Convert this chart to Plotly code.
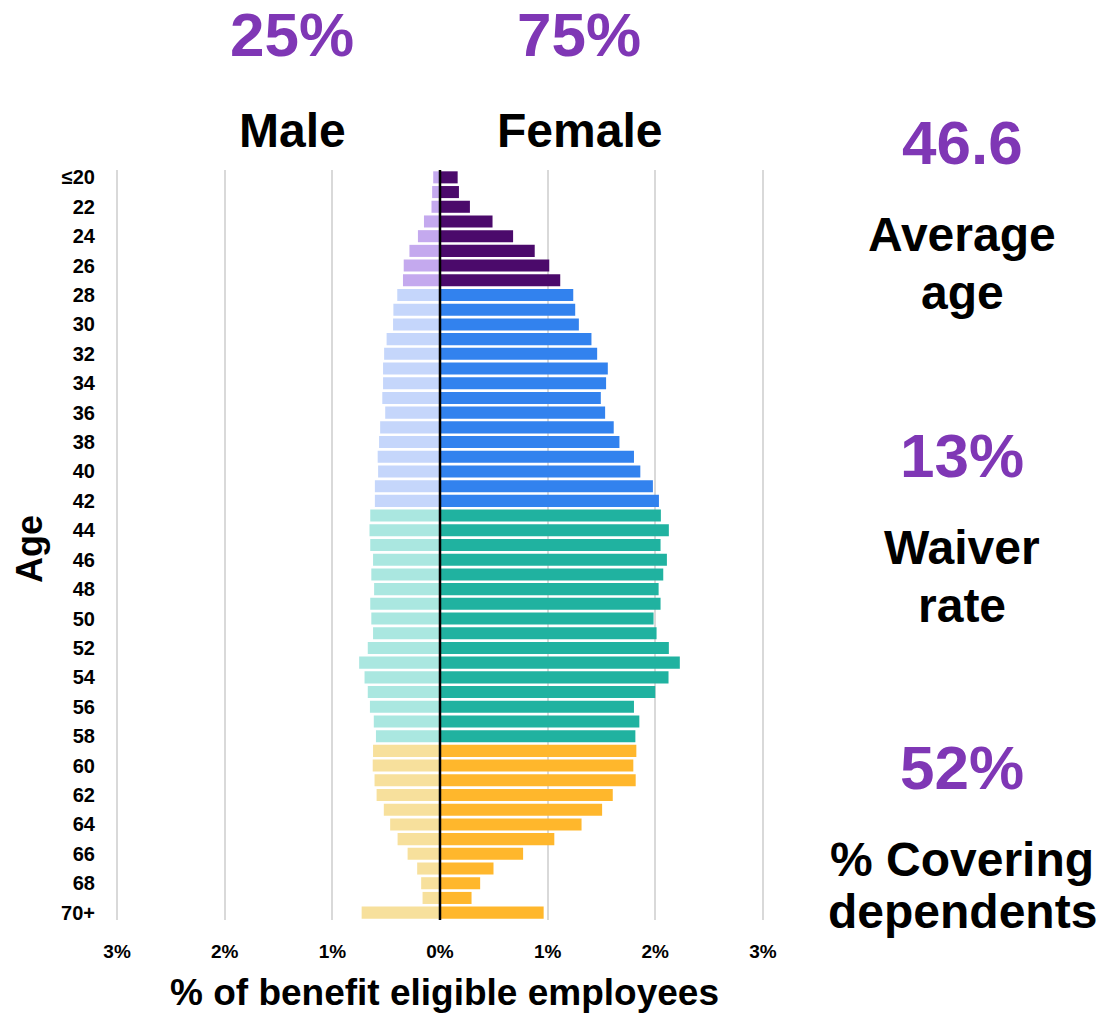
import plotly.graph_objects as go

# age bands, youngest at the top
ages = ["≤20"] + [str(a) for a in range(21, 70)] + ["70+"]
age_ticks = ages[::2]

# % of benefit eligible employees per age
male_pct = [0.063, 0.073, 0.079, 0.149, 0.205, 0.284, 0.337, 0.344,
            0.397, 0.433, 0.436, 0.496, 0.519, 0.529, 0.529, 0.536, 0.509, 0.556, 0.566, 0.579, 0.575, 0.605, 0.605,
            0.648, 0.655, 0.648, 0.622, 0.638, 0.612, 0.648, 0.638, 0.622, 0.671, 0.751, 0.701, 0.671, 0.651, 0.615, 0.595,
            0.622, 0.625, 0.608, 0.589, 0.522, 0.463, 0.394, 0.301, 0.212, 0.175, 0.162, 0.728]
female_pct = [0.164, 0.176, 0.278, 0.488, 0.679, 0.880, 1.015, 1.117,
              1.238, 1.256, 1.290, 1.407, 1.460, 1.559, 1.543, 1.494, 1.534, 1.614, 1.667, 1.802, 1.861, 1.978, 2.034,
              2.052, 2.126, 2.049, 2.108, 2.074, 2.031, 2.049, 1.984, 2.012, 2.126, 2.228, 2.123, 2.000, 1.802, 1.852, 1.815,
              1.824, 1.796, 1.818, 1.605, 1.506, 1.315, 1.062, 0.772, 0.497, 0.373, 0.293, 0.963]

# colour bands (number of ages in each band)
band_sizes = [8, 15, 16, 12]
female_band_colors = ["#4B0A6B", "#3282EE", "#20B2A0", "#FFB72C"]
male_band_colors = ["#C4A9EE", "#C5D6FB", "#AAE7E0", "#F7E09C"]

x_ticks = [-3, -2, -1, 0, 1, 2, 3]
x_tick_text = ["3%", "2%", "1%", "0%", "1%", "2%", "3%"]

gender_split = [("25%", "Male"), ("75%", "Female")]
stats = [("46.6", ["Average", "age"]),
         ("13%", ["Waiver", "rate"]),
         ("52%", ["% Covering", "dependents"])]

PURPLE = "#7F37B5"
BIG = "Liberation Sans, Arial, sans-serif"
SMALL = "Liberation Sans Narrow, Arial Narrow, Liberation Sans, sans-serif"

female_colors, male_colors = [], []
for n, fc, mc in zip(band_sizes, female_band_colors, male_band_colors):
    female_colors += [fc] * n
    male_colors += [mc] * n

fig = go.Figure()
fig.add_trace(go.Bar(
    y=ages, x=[-v for v in male_pct], orientation="h", name="Male",
    marker=dict(color=male_colors, line=dict(width=0)),
))
fig.add_trace(go.Bar(
    y=ages, x=female_pct, orientation="h", name="Female",
    marker=dict(color=female_colors, line=dict(width=0)),
))
fig.add_vline(x=0, line_width=2.5, line_color="black", layer="above")

# plot area: x 116..764, y 170..920 (pixels)
L, R, T, B = 116, 764, 170, 920


def paper(px, py):
    return (px - L) / (R - L), (B - py) / (B - T)


def note(text, px, py, size, color="black", angle=0):
    x, y = paper(px, py)
    fig.add_annotation(
        text=text, x=x, y=y, xref="paper", yref="paper",
        xanchor="center", yanchor="middle", showarrow=False, textangle=angle,
        font=dict(family=BIG, size=size, color=color, weight="bold"),
    )


for (pct, label), cx in zip(gender_split, [292, 579]):
    note(pct, cx, 34, 62, PURPLE)
    note(label, cx, 131, 48)

for (value, lines), vy, ly in zip(stats, [143, 455, 767], [[234, 292], [547, 605], [859, 911]]):
    note(value, 962, vy, 62, PURPLE)
    for line, y in zip(lines, ly):
        note(line, 962, y, 48)

note("% of benefit eligible employees", 444, 992, 37)
note("Age", 29, 549, 36, angle=-90)

fig.update_layout(
    width=1102, height=1017,
    margin=dict(l=L, r=1102 - R, t=T, b=1017 - B),
    barmode="overlay", bargap=0.18,
    showlegend=False,
    plot_bgcolor="white", paper_bgcolor="white",
    xaxis=dict(
        range=[-3.01, 3.01], tickvals=x_ticks, ticktext=x_tick_text,
        showgrid=True, gridcolor="#D9D9D9", gridwidth=2,
        zeroline=False, showline=False, ticks="",
        ticklabelstandoff=18,
        tickfont=dict(family=SMALL, size=19, color="black", weight="bold"),
    ),
    yaxis=dict(
        type="category", categoryorder="array", categoryarray=ages,
        autorange="reversed", tickvals=age_ticks, ticktext=age_ticks,
        showgrid=False, zeroline=False, showline=False, ticks="",
        ticklabelstandoff=20,
        tickfont=dict(family=SMALL, size=20, color="black", weight="bold"),
    ),
)

# drop the browser's default 8px body margin so the figure fills the window
fig.write_html("out.html", config={"displayModeBar": False},
               post_script="document.body.style.margin = '0';")
